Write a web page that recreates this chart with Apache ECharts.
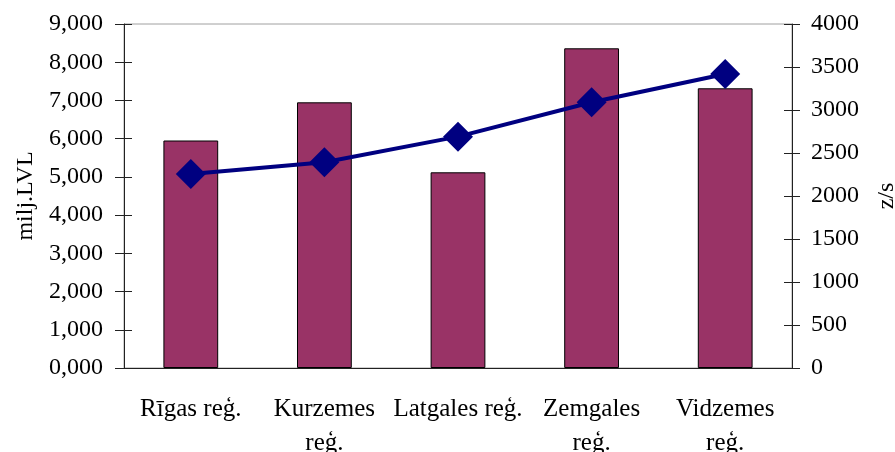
<!DOCTYPE html>
<html>
<head>
<meta charset="utf-8">
<script src="https://cdn.jsdelivr.net/npm/echarts@6/dist/echarts.min.js"></script>
<style>
  html, body { margin: 0; padding: 0; background: #fff; }
  #chart { width: 895px; height: 452px; }
</style>
</head>
<body>
<div id="chart"></div>
<script>
// data
const categories = ['Rīgas reģ.', 'Kurzemes\nreģ.', 'Latgales reģ.', 'Zemgales\nreģ.', 'Vidzemes\nreģ.'];
const barValues = [5.952, 6.951, 5.120, 8.364, 7.318];   // milj.LVL (left axis)
const lineValues = [2256, 2392, 2690, 3090, 3419];        // z/s (right axis)

const font = 'Liberation Serif';
const axisColor = '#222';

const chart = echarts.init(document.getElementById('chart'));

// ticks cross the axis line, so each axis gets a twin with inside ticks
const leftAxis = {
  type: 'value', position: 'left', min: 0, max: 9, interval: 1,
  splitLine: { show: false },
};
const rightAxis = {
  type: 'value', position: 'right', min: 0, max: 4000, interval: 500,
  splitLine: { show: false },
};

const option = {
  animation: false,
  textStyle: { fontFamily: font },
  grid: {
    left: 124, right: 103, top: 24, bottom: 84,
    outerBoundsMode: 'none',
    containLabel: false,
    show: true, borderColor: '#a0a0a0', borderWidth: 1,
  },
  xAxis: [
    {
      type: 'category',
      data: categories,
      axisLine: { lineStyle: { color: axisColor, width: 1 } },
      axisTick: { length: 8, lineStyle: { color: axisColor } },
      axisLabel: {
        color: '#000', fontFamily: font, fontSize: 25,
        margin: 24, lineHeight: 34, interval: 0,
      },
    },
    {
      type: 'category',
      data: categories,
      position: 'bottom',
      axisLine: { show: false },
      axisTick: { inside: true, length: 8, lineStyle: { color: axisColor } },
      axisLabel: { show: false },
    },
  ],
  yAxis: [
    Object.assign({}, leftAxis, {
      name: 'milj.LVL',
      nameLocation: 'middle',
      nameGap: 86,
      nameRotate: 90,
      nameTextStyle: { color: '#000', fontFamily: font, fontSize: 24 },
      axisLine: { show: true, lineStyle: { color: axisColor, width: 1 } },
      axisTick: { show: true, length: 9, lineStyle: { color: axisColor } },
      axisLabel: {
        color: '#000', fontFamily: font, fontSize: 24, margin: 21,
        formatter: (v) => v.toFixed(3).replace('.', ','),
      },
    }),
    Object.assign({}, rightAxis, {
      name: 'z/s',
      nameLocation: 'middle',
      nameGap: 83,
      nameRotate: 90,
      nameTextStyle: { color: '#000', fontFamily: font, fontSize: 24 },
      axisLine: { show: true, lineStyle: { color: axisColor, width: 1 } },
      axisTick: { show: true, length: 8, lineStyle: { color: axisColor } },
      axisLabel: {
        color: '#000', fontFamily: font, fontSize: 24, margin: 19,
        formatter: (v) => String(v),
      },
    }),
    Object.assign({}, leftAxis, {
      axisLine: { show: false },
      axisTick: { show: true, inside: true, length: 8, lineStyle: { color: axisColor } },
      axisLabel: { show: false },
    }),
    Object.assign({}, rightAxis, {
      axisLine: { show: false },
      axisTick: { show: true, inside: true, length: 8, lineStyle: { color: axisColor } },
      axisLabel: { show: false },
    }),
  ],
  series: [
    {
      name: 'milj.LVL',
      type: 'bar',
      xAxisIndex: 0,
      yAxisIndex: 0,
      barWidth: '41%',
      itemStyle: { color: '#993366', borderColor: '#000', borderWidth: 1 },
      data: barValues,
    },
    {
      name: 'z/s',
      type: 'line',
      xAxisIndex: 0,
      yAxisIndex: 1,
      symbol: 'diamond',
      symbolSize: 30,
      lineStyle: { color: '#000080', width: 4 },
      itemStyle: { color: '#000080' },
      data: lineValues,
      z: 5,
    },
  ],
};

chart.setOption(option);
</script>
</body>
</html>
